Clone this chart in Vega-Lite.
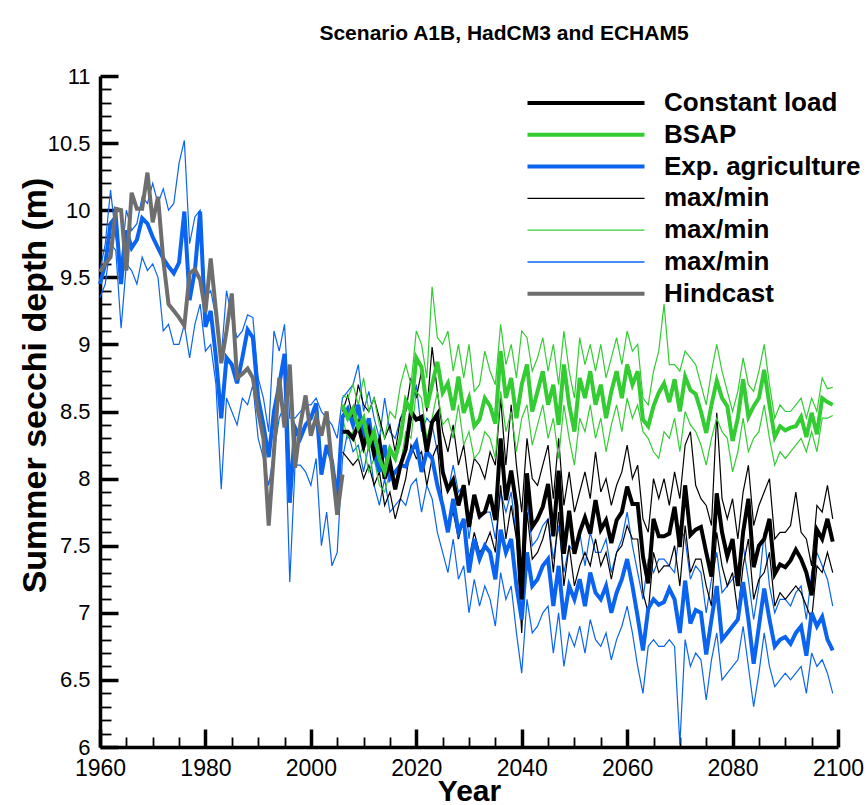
{
"$schema":"https://vega.github.io/schema/vega-lite/v6.json",
"width":738,"height":671,"autosize":"none",
"padding":{"left":100,"top":76,"right":30,"bottom":58},
"background":"#ffffff",
"config":{"view":{"stroke":null},"font":"Liberation Sans"},
"title":{"text":"Scenario A1B, HadCM3 and ECHAM5","font":"Liberation Sans","fontSize":21,"fontWeight":"bold","color":"#000000","anchor":"middle","frame":"group","dx":35,"baseline":"alphabetic","offset":4},
"data":{"values":[
{"year":1960,"h":9.54,"ea":9.45,"eamax":9.55,"eamin":9.35},
{"year":1961,"h":9.6,"ea":9.6,"eamax":9.75,"eamin":9.45},
{"year":1962,"h":9.65,"ea":9.9,"eamax":10.15,"eamin":9.75},
{"year":1963,"h":10.01,"ea":9.95,"eamax":9.8,"eamin":9.7},
{"year":1964,"h":10.0,"ea":9.45,"eamax":9.6,"eamin":9.12},
{"year":1965,"h":9.55,"ea":9.85,"eamax":10.0,"eamin":9.6},
{"year":1966,"h":10.13,"ea":9.72,"eamax":9.85,"eamin":9.55},
{"year":1967,"h":10.01,"ea":9.78,"eamax":9.9,"eamin":9.45},
{"year":1968,"h":10.01,"ea":9.94,"eamax":10.1,"eamin":9.65},
{"year":1969,"h":10.28,"ea":9.9,"eamax":10.05,"eamin":9.55},
{"year":1970,"h":9.91,"ea":9.8,"eamax":10.2,"eamin":9.6},
{"year":1971,"h":10.1,"ea":9.72,"eamax":10.05,"eamin":9.5},
{"year":1972,"h":9.63,"ea":9.64,"eamax":10.16,"eamin":9.1},
{"year":1973,"h":9.3,"ea":9.58,"eamax":10.0,"eamin":9.15},
{"year":1974,"h":9.25,"ea":9.53,"eamax":10.05,"eamin":9.0},
{"year":1975,"h":9.2,"ea":9.61,"eamax":10.35,"eamin":9.0},
{"year":1976,"h":9.14,"ea":9.99,"eamax":10.52,"eamin":9.15},
{"year":1977,"h":9.53,"ea":9.33,"eamax":9.75,"eamin":8.9},
{"year":1978,"h":9.56,"ea":9.55,"eamax":9.95,"eamin":9.15},
{"year":1979,"h":9.48,"ea":9.99,"eamax":10.0,"eamin":9.3},
{"year":1980,"h":9.24,"ea":9.13,"eamax":9.35,"eamin":8.95},
{"year":1981,"h":9.64,"ea":9.25,"eamax":9.4,"eamin":9.0},
{"year":1982,"h":9.25,"ea":8.9,"eamax":9.2,"eamin":8.7},
{"year":1983,"h":8.86,"ea":8.45,"eamax":8.9,"eamin":7.92},
{"year":1984,"h":9.1,"ea":8.9,"eamax":9.4,"eamin":8.6},
{"year":1985,"h":9.38,"ea":8.85,"eamax":9.2,"eamin":8.5},
{"year":1986,"h":8.75,"ea":8.71,"eamax":9.05,"eamin":8.4},
{"year":1987,"h":8.78,"ea":8.9,"eamax":9.1,"eamin":8.6},
{"year":1988,"h":8.82,"ea":9.11,"eamax":9.22,"eamin":8.55},
{"year":1989,"h":8.75,"ea":9.05,"eamax":9.2,"eamin":8.7},
{"year":1990,"h":8.5,"ea":8.6,"eamax":8.75,"eamin":8.3},
{"year":1991,"h":8.3,"ea":8.4,"eamax":8.6,"eamin":8.15},
{"year":1992,"h":7.65,"ea":8.16,"eamax":8.35,"eamin":7.95},
{"year":1993,"h":8.2,"ea":8.5,"eamax":9.1,"eamin":8.2},
{"year":1994,"h":8.75,"ea":8.7,"eamax":8.95,"eamin":8.45},
{"year":1995,"h":8.38,"ea":8.93,"eamax":9.15,"eamin":8.55},
{"year":1996,"h":8.85,"ea":7.82,"eamax":8.45,"eamin":7.23},
{"year":1997,"h":8.08,"ea":8.38,"eamax":8.45,"eamin":8.1},
{"year":1998,"h":8.4,"ea":8.3,"eamax":8.5,"eamin":8.1},
{"year":1999,"h":8.62,"ea":8.4,"eamax":8.55,"eamin":8.05},
{"year":2000,"h":8.32,"ea":8.45,"eamax":8.55,"eamin":7.95},
{"year":2001,"h":8.46,"ea":8.56,"eamax":8.6,"eamin":8.15},
{"year":2002,"h":8.32,"ea":8.03,"eamax":8.5,"eamin":7.5},
{"year":2003,"h":8.5,"ea":8.25,"eamax":8.45,"eamin":7.75},
{"year":2004,"h":8.1,"ea":8.13,"eamax":8.4,"eamin":7.35},
{"year":2005,"h":7.73,"ea":7.84,"eamax":8.3,"eamin":7.45},
{"year":2006,"h":8.03,"ea":8.46,"eamax":8.6,"eamin":8.15,"cl":8.35,"clmax":8.5,"clmin":8.2,"bs":8.55,"bsmax":8.62,"bsmin":8.45},
{"year":2007,"ea":8.52,"eamax":8.65,"eamin":8.35,"cl":8.35,"clmax":8.62,"clmin":8.15,"bs":8.45,"bsmax":8.6,"bsmin":8.3},
{"year":2008,"ea":8.4,"eamax":8.7,"eamin":8.2,"cl":8.3,"clmax":8.45,"clmin":8.1,"bs":8.52,"bsmax":8.7,"bsmin":8.35},
{"year":2009,"ea":8.55,"eamax":8.85,"eamin":8.25,"cl":8.4,"clmax":8.7,"clmin":8.15,"bs":8.38,"bsmax":8.55,"bsmin":8.15},
{"year":2010,"ea":8.3,"eamax":8.5,"eamin":8.05,"cl":8.24,"clmax":8.55,"clmin":8.0,"bs":8.45,"bsmax":8.75,"bsmin":8.25},
{"year":2011,"ea":8.45,"eamax":8.65,"eamin":8.25,"cl":8.36,"clmax":8.5,"clmin":8.1,"bs":8.25,"bsmax":8.5,"bsmin":8.05},
{"year":2012,"ea":8.2,"eamax":8.45,"eamin":7.95,"cl":8.18,"clmax":8.6,"clmin":7.95,"bs":8.35,"bsmax":8.6,"bsmin":8.15},
{"year":2013,"ea":8.05,"eamax":8.3,"eamin":7.8,"cl":8.28,"clmax":8.45,"clmin":8.05,"bs":8.15,"bsmax":8.4,"bsmin":7.95},
{"year":2014,"ea":8.25,"eamax":8.6,"eamin":8.0,"cl":8.0,"clmax":8.3,"clmin":7.8,"bs":8.05,"bsmax":8.3,"bsmin":7.9},
{"year":2015,"ea":8.0,"eamax":8.35,"eamin":7.75,"cl":8.12,"clmax":8.4,"clmin":7.9,"bs":8.22,"bsmax":8.5,"bsmin":8.05},
{"year":2016,"ea":8.05,"eamax":8.3,"eamin":7.8,"cl":7.92,"clmax":8.2,"clmin":7.7,"bs":8.15,"bsmax":8.45,"bsmin":7.95},
{"year":2017,"ea":8.1,"eamax":8.45,"eamin":7.85,"cl":8.1,"clmax":8.45,"clmin":7.85,"bs":8.3,"bsmax":8.7,"bsmin":8.1},
{"year":2018,"ea":8.09,"eamax":8.55,"eamin":7.8,"cl":8.22,"clmax":8.5,"clmin":8.0,"bs":8.58,"bsmax":8.85,"bsmin":8.35},
{"year":2019,"ea":8.2,"eamax":8.5,"eamin":7.95,"cl":8.5,"clmax":8.75,"clmin":8.25,"bs":8.5,"bsmax":8.7,"bsmin":8.3},
{"year":2020,"ea":8.27,"eamax":8.7,"eamin":8.0,"cl":8.44,"clmax":8.6,"clmin":8.15,"bs":8.9,"bsmax":9.1,"bsmin":8.65},
{"year":2021,"ea":8.05,"eamax":8.35,"eamin":7.75,"cl":8.46,"clmax":8.8,"clmin":8.2,"bs":8.83,"bsmax":9.0,"bsmin":8.6},
{"year":2022,"ea":8.2,"eamax":8.45,"eamin":7.95,"cl":8.2,"clmax":8.5,"clmin":7.95,"bs":8.53,"bsmax":8.75,"bsmin":8.3},
{"year":2023,"ea":8.15,"eamax":8.4,"eamin":7.85,"cl":8.42,"clmax":8.98,"clmin":8.15,"bs":8.7,"bsmax":9.43,"bsmin":8.45},
{"year":2024,"ea":7.95,"eamax":8.2,"eamin":7.6,"cl":8.48,"clmax":8.65,"clmin":8.25,"bs":8.87,"bsmax":9.05,"bsmin":8.65},
{"year":2025,"ea":7.8,"eamax":8.1,"eamin":7.45,"cl":8.05,"clmax":8.35,"clmin":7.8,"bs":8.64,"bsmax":9.0,"bsmin":8.4},
{"year":2026,"ea":7.6,"eamax":7.9,"eamin":7.3,"cl":7.92,"clmax":8.2,"clmin":7.65,"bs":8.71,"bsmax":9.1,"bsmin":8.45},
{"year":2027,"ea":7.85,"eamax":8.1,"eamin":7.55,"cl":7.99,"clmax":8.4,"clmin":7.75,"bs":8.51,"bsmax":8.8,"bsmin":8.3},
{"year":2028,"ea":7.6,"eamax":7.9,"eamin":7.25,"cl":7.8,"clmax":8.1,"clmin":7.55,"bs":8.76,"bsmax":9.0,"bsmin":8.55},
{"year":2029,"ea":7.7,"eamax":7.95,"eamin":7.35,"cl":7.95,"clmax":8.25,"clmin":7.7,"bs":8.49,"bsmax":8.75,"bsmin":8.25},
{"year":2030,"ea":7.3,"eamax":7.55,"eamin":7.0,"cl":7.64,"clmax":7.95,"clmin":7.4,"bs":8.6,"bsmax":9.0,"bsmin":8.35},
{"year":2031,"ea":7.55,"eamax":7.85,"eamin":7.25,"cl":7.88,"clmax":8.15,"clmin":7.6,"bs":8.39,"bsmax":8.65,"bsmin":8.15},
{"year":2032,"ea":7.4,"eamax":7.7,"eamin":7.05,"cl":7.72,"clmax":8.1,"clmin":7.45,"bs":8.44,"bsmax":8.7,"bsmin":8.2},
{"year":2033,"ea":7.5,"eamax":7.75,"eamin":7.2,"cl":7.75,"clmax":8.0,"clmin":7.5,"bs":8.6,"bsmax":8.95,"bsmin":8.35},
{"year":2034,"ea":7.45,"eamax":7.75,"eamin":7.1,"cl":7.88,"clmax":8.2,"clmin":7.6,"bs":8.54,"bsmax":8.8,"bsmin":8.3},
{"year":2035,"ea":7.25,"eamax":7.55,"eamin":6.9,"cl":7.69,"clmax":8.1,"clmin":7.45,"bs":8.41,"bsmax":8.7,"bsmin":8.15},
{"year":2036,"ea":7.62,"eamax":7.9,"eamin":7.3,"cl":8.3,"clmax":8.6,"clmin":7.95,"bs":8.95,"bsmax":9.15,"bsmin":8.65},
{"year":2037,"ea":7.45,"eamax":7.75,"eamin":7.1,"cl":7.84,"clmax":8.1,"clmin":7.55,"bs":8.6,"bsmax":8.85,"bsmin":8.35},
{"year":2038,"ea":7.55,"eamax":7.9,"eamin":7.2,"cl":8.06,"clmax":8.55,"clmin":7.8,"bs":8.75,"bsmax":9.0,"bsmin":8.5},
{"year":2039,"ea":7.2,"eamax":7.55,"eamin":6.85,"cl":7.8,"clmax":8.1,"clmin":7.55,"bs":8.45,"bsmax":8.75,"bsmin":8.2},
{"year":2040,"ea":6.95,"eamax":7.3,"eamin":6.55,"cl":7.1,"clmax":7.75,"clmin":6.85,"bs":8.7,"bsmax":9.1,"bsmin":8.45},
{"year":2041,"ea":7.45,"eamax":7.85,"eamin":7.1,"cl":8.04,"clmax":8.3,"clmin":7.75,"bs":8.85,"bsmax":9.05,"bsmin":8.55},
{"year":2042,"ea":7.2,"eamax":7.5,"eamin":6.85,"cl":7.64,"clmax":8.0,"clmin":7.4,"bs":8.5,"bsmax":8.8,"bsmin":8.25},
{"year":2043,"ea":7.25,"eamax":7.55,"eamin":6.9,"cl":7.7,"clmax":7.95,"clmin":7.45,"bs":8.65,"bsmax":8.9,"bsmin":8.4},
{"year":2044,"ea":7.35,"eamax":7.65,"eamin":7.0,"cl":7.79,"clmax":8.1,"clmin":7.55,"bs":8.8,"bsmax":9.05,"bsmin":8.55},
{"year":2045,"ea":7.4,"eamax":7.7,"eamin":7.05,"cl":7.96,"clmax":8.25,"clmin":7.7,"bs":8.55,"bsmax":8.8,"bsmin":8.3},
{"year":2046,"ea":7.05,"eamax":7.4,"eamin":6.7,"cl":7.57,"clmax":7.85,"clmin":7.3,"bs":8.7,"bsmax":9.0,"bsmin":8.45},
{"year":2047,"ea":7.35,"eamax":7.65,"eamin":7.0,"cl":8.06,"clmax":8.3,"clmin":7.75,"bs":8.4,"bsmax":8.7,"bsmin":8.15},
{"year":2048,"ea":6.95,"eamax":7.3,"eamin":6.6,"cl":7.44,"clmax":7.8,"clmin":7.2,"bs":8.85,"bsmax":9.1,"bsmin":8.55},
{"year":2049,"ea":7.2,"eamax":7.5,"eamin":6.85,"cl":7.76,"clmax":8.05,"clmin":7.5,"bs":8.55,"bsmax":8.8,"bsmin":8.3},
{"year":2050,"ea":7.1,"eamax":7.45,"eamin":6.75,"cl":7.44,"clmax":7.75,"clmin":7.2,"bs":8.35,"bsmax":8.6,"bsmin":8.1},
{"year":2051,"ea":7.25,"eamax":7.6,"eamin":6.9,"cl":7.6,"clmax":7.9,"clmin":7.35,"bs":8.75,"bsmax":9.05,"bsmin":8.45},
{"year":2052,"ea":7.05,"eamax":7.35,"eamin":6.7,"cl":7.71,"clmax":8.05,"clmin":7.45,"bs":8.6,"bsmax":8.85,"bsmin":8.35},
{"year":2053,"ea":7.3,"eamax":7.6,"eamin":6.95,"cl":7.59,"clmax":7.85,"clmin":7.35,"bs":8.8,"bsmax":9.0,"bsmin":8.55},
{"year":2054,"ea":7.15,"eamax":7.45,"eamin":6.8,"cl":7.84,"clmax":8.2,"clmin":7.55,"bs":8.55,"bsmax":8.8,"bsmin":8.3},
{"year":2055,"ea":7.1,"eamax":7.45,"eamin":6.75,"cl":7.62,"clmax":7.9,"clmin":7.35,"bs":8.7,"bsmax":9.0,"bsmin":8.45},
{"year":2056,"ea":7.2,"eamax":7.55,"eamin":6.85,"cl":7.69,"clmax":8.0,"clmin":7.45,"bs":8.45,"bsmax":8.75,"bsmin":8.2},
{"year":2057,"ea":7.0,"eamax":7.3,"eamin":6.65,"cl":7.52,"clmax":7.8,"clmin":7.25,"bs":8.65,"bsmax":8.9,"bsmin":8.4},
{"year":2058,"ea":7.15,"eamax":7.45,"eamin":6.8,"cl":7.69,"clmax":7.95,"clmin":7.45,"bs":8.8,"bsmax":9.05,"bsmin":8.55},
{"year":2059,"ea":7.25,"eamax":7.55,"eamin":6.9,"cl":7.75,"clmax":8.05,"clmin":7.5,"bs":8.6,"bsmax":8.85,"bsmin":8.35},
{"year":2060,"ea":7.4,"eamax":7.75,"eamin":7.05,"cl":7.94,"clmax":8.25,"clmin":7.65,"bs":8.85,"bsmax":9.1,"bsmin":8.6},
{"year":2061,"ea":7.2,"eamax":7.5,"eamin":6.85,"cl":7.81,"clmax":8.0,"clmin":7.55,"bs":8.7,"bsmax":8.95,"bsmin":8.45},
{"year":2062,"ea":6.97,"eamax":7.3,"eamin":6.6,"cl":7.81,"clmax":8.1,"clmin":7.55,"bs":8.8,"bsmax":9.0,"bsmin":8.55},
{"year":2063,"ea":6.72,"eamax":7.1,"eamin":6.4,"cl":7.42,"clmax":7.7,"clmin":7.15,"bs":8.44,"bsmax":8.6,"bsmin":8.35},
{"year":2064,"ea":7.03,"eamax":7.4,"eamin":6.75,"cl":7.22,"clmax":7.6,"clmin":7.0,"bs":8.39,"bsmax":8.55,"bsmin":8.3},
{"year":2065,"ea":7.1,"eamax":7.3,"eamin":6.8,"cl":7.7,"clmax":8.0,"clmin":7.45,"bs":8.54,"bsmax":8.8,"bsmin":8.2},
{"year":2066,"ea":7.06,"eamax":7.4,"eamin":6.75,"cl":7.57,"clmax":7.85,"clmin":7.3,"bs":8.64,"bsmax":8.95,"bsmin":8.15},
{"year":2067,"ea":7.08,"eamax":7.4,"eamin":6.75,"cl":7.57,"clmax":8.0,"clmin":7.35,"bs":8.71,"bsmax":9.3,"bsmin":8.35},
{"year":2068,"ea":7.18,"eamax":7.35,"eamin":6.8,"cl":7.59,"clmax":7.8,"clmin":7.35,"bs":8.57,"bsmax":8.85,"bsmin":8.3},
{"year":2069,"ea":7.1,"eamax":7.3,"eamin":6.75,"cl":7.79,"clmax":8.05,"clmin":7.5,"bs":8.74,"bsmax":8.85,"bsmin":8.45},
{"year":2070,"ea":6.85,"eamax":7.64,"eamin":6.02,"cl":7.49,"clmax":7.85,"clmin":7.2,"bs":8.5,"bsmax":8.8,"bsmin":8.2},
{"year":2071,"ea":7.24,"eamax":7.55,"eamin":6.8,"cl":7.95,"clmax":8.25,"clmin":7.65,"bs":8.76,"bsmax":8.95,"bsmin":8.5},
{"year":2072,"ea":6.92,"eamax":7.25,"eamin":6.6,"cl":7.58,"clmax":8.35,"clmin":7.3,"bs":8.66,"bsmax":8.9,"bsmin":8.4},
{"year":2073,"ea":7.02,"eamax":7.35,"eamin":6.7,"cl":7.62,"clmax":7.95,"clmin":7.4,"bs":8.63,"bsmax":8.85,"bsmin":8.35},
{"year":2074,"ea":7.0,"eamax":7.3,"eamin":6.65,"cl":7.64,"clmax":7.85,"clmin":7.4,"bs":8.5,"bsmax":8.7,"bsmin":8.25},
{"year":2075,"ea":6.69,"eamax":7.0,"eamin":6.35,"cl":7.45,"clmax":7.8,"clmin":7.2,"bs":8.34,"bsmax":8.55,"bsmin":8.1},
{"year":2076,"ea":6.95,"eamax":7.25,"eamin":6.65,"cl":7.27,"clmax":7.65,"clmin":7.05,"bs":8.55,"bsmax":8.8,"bsmin":8.3},
{"year":2077,"ea":7.2,"eamax":7.45,"eamin":6.85,"cl":7.89,"clmax":8.49,"clmin":7.6,"bs":8.73,"bsmax":9.0,"bsmin":8.45},
{"year":2078,"ea":6.8,"eamax":7.15,"eamin":6.5,"cl":7.6,"clmax":7.85,"clmin":7.35,"bs":8.6,"bsmax":8.8,"bsmin":8.35},
{"year":2079,"ea":6.85,"eamax":7.2,"eamin":6.55,"cl":7.42,"clmax":7.7,"clmin":7.2,"bs":8.54,"bsmax":8.65,"bsmin":8.3},
{"year":2080,"ea":6.9,"eamax":7.25,"eamin":6.6,"cl":7.55,"clmax":7.85,"clmin":7.3,"bs":8.28,"bsmax":8.5,"bsmin":8.05},
{"year":2081,"ea":6.95,"eamax":7.3,"eamin":6.65,"cl":7.2,"clmax":7.55,"clmin":7.0,"bs":8.45,"bsmax":8.65,"bsmin":8.2},
{"year":2082,"ea":7.23,"eamax":7.5,"eamin":6.9,"cl":7.6,"clmax":7.9,"clmin":7.35,"bs":8.74,"bsmax":8.9,"bsmin":8.45},
{"year":2083,"ea":6.95,"eamax":7.25,"eamin":6.6,"cl":7.85,"clmax":8.1,"clmin":7.55,"bs":8.46,"bsmax":8.7,"bsmin":8.2},
{"year":2084,"ea":6.62,"eamax":6.95,"eamin":6.3,"cl":7.34,"clmax":7.65,"clmin":7.1,"bs":8.54,"bsmax":8.65,"bsmin":8.3},
{"year":2085,"ea":6.9,"eamax":7.2,"eamin":6.55,"cl":7.5,"clmax":7.8,"clmin":7.25,"bs":8.6,"bsmax":8.8,"bsmin":8.35},
{"year":2086,"ea":7.18,"eamax":7.6,"eamin":6.85,"cl":7.55,"clmax":7.9,"clmin":7.3,"bs":8.81,"bsmax":9.0,"bsmin":8.55},
{"year":2087,"ea":6.95,"eamax":7.2,"eamin":6.6,"cl":7.7,"clmax":8.0,"clmin":7.45,"bs":8.55,"bsmax":8.7,"bsmin":8.3},
{"year":2088,"ea":6.75,"eamax":7.0,"eamin":6.45,"cl":7.29,"clmax":7.55,"clmin":7.05,"bs":8.31,"bsmax":8.45,"bsmin":8.1},
{"year":2089,"ea":6.8,"eamax":7.1,"eamin":6.5,"cl":7.36,"clmax":7.6,"clmin":7.15,"bs":8.39,"bsmax":8.55,"bsmin":8.2},
{"year":2090,"ea":6.82,"eamax":7.1,"eamin":6.55,"cl":7.34,"clmax":7.6,"clmin":7.1,"bs":8.36,"bsmax":8.5,"bsmin":8.15},
{"year":2091,"ea":6.77,"eamax":7.05,"eamin":6.5,"cl":7.39,"clmax":7.65,"clmin":7.15,"bs":8.38,"bsmax":8.5,"bsmin":8.2},
{"year":2092,"ea":6.85,"eamax":7.15,"eamin":6.55,"cl":7.47,"clmax":7.9,"clmin":7.2,"bs":8.39,"bsmax":8.55,"bsmin":8.25},
{"year":2093,"ea":6.9,"eamax":7.2,"eamin":6.6,"cl":7.4,"clmax":7.6,"clmin":7.15,"bs":8.46,"bsmax":8.6,"bsmin":8.3},
{"year":2094,"ea":6.68,"eamax":6.95,"eamin":6.4,"cl":7.3,"clmax":7.55,"clmin":7.05,"bs":8.31,"bsmax":8.45,"bsmin":8.2},
{"year":2095,"ea":7.0,"eamax":7.3,"eamin":6.7,"cl":7.13,"clmax":7.35,"clmin":6.95,"bs":8.49,"bsmax":8.6,"bsmin":8.35},
{"year":2096,"ea":6.9,"eamax":7.45,"eamin":6.6,"cl":7.62,"clmax":7.8,"clmin":7.35,"bs":8.33,"bsmax":8.5,"bsmin":8.2},
{"year":2097,"ea":6.97,"eamax":7.35,"eamin":6.65,"cl":7.55,"clmax":7.75,"clmin":7.3,"bs":8.6,"bsmax":8.75,"bsmin":8.45},
{"year":2098,"ea":6.8,"eamax":7.25,"eamin":6.55,"cl":7.7,"clmax":7.95,"clmin":7.45,"bs":8.57,"bsmax":8.67,"bsmin":8.45},
{"year":2099,"ea":6.72,"eamax":7.05,"eamin":6.4,"cl":7.53,"clmax":7.7,"clmin":7.3,"bs":8.55,"bsmax":8.68,"bsmin":8.47}
]},
"encoding":{
"x":{"field":"year","type":"quantitative","scale":{"domain":[1960,2100],"nice":false,"zero":false},
 "axis":{"title":"Year","titleFont":"Liberation Sans","titleFontSize":30,"titleFontWeight":"bold","titleColor":"#000000","titleY":53,"titleBaseline":"alphabetic",
 "values":[1960,1965,1970,1975,1980,1985,1990,1995,2000,2005,2010,2015,2020,2025,2030,2035,2040,2045,2050,2055,2060,2065,2070,2075,2080,2085,2090,2095,2100],
 "format":"d","labelExpr":"datum.value % 20 === 0 ? datum.label : ''","labelFont":"Liberation Sans","labelFontSize":23,"labelColor":"#000000","labelPadding":28,"labelBaseline":"top","labelOverlap":false,"labelFlush":false,"labelBound":false,
 "tickColor":"#000000","tickSize":{"condition":{"test":"datum.value % 20 === 0","value":-18},"value":-10},"tickWidth":{"condition":{"test":"datum.value % 20 === 0","value":3.5},"value":1.8},
 "domainColor":"#000000","domainWidth":3.5,"grid":false}},
"y":{"field":"value","type":"quantitative","scale":{"domain":[6,11],"nice":false,"zero":false},
 "axis":{"title":"Summer secchi depth (m)","titleFont":"Liberation Sans","titleFontSize":34,"titleFontWeight":"bold","titleColor":"#000000","titleX":-55,"titleY":309,"titleBaseline":"alphabetic",
 "values":[6,6.1,6.2,6.3,6.4,6.5,6.6,6.7,6.8,6.9,7,7.1,7.2,7.3,7.4,7.5,7.6,7.7,7.8,7.9,8,8.1,8.2,8.3,8.4,8.5,8.6,8.7,8.8,8.9,9,9.1,9.2,9.3,9.4,9.5,9.6,9.7,9.8,9.9,10,10.1,10.2,10.3,10.4,10.5,10.6,10.7,10.8,10.9,11],
 "format":"~g","labelExpr":"abs(datum.value*2 - round(datum.value*2)) < 0.001 ? datum.label : ''","labelFont":"Liberation Sans","labelFontSize":22,"labelColor":"#000000","labelPadding":28,"labelOverlap":false,"labelFlush":false,"labelBound":false,
 "tickColor":"#000000","tickSize":{"condition":{"test":"abs(datum.value*2 - round(datum.value*2)) < 0.001","value":-18},"value":-11},"tickWidth":{"condition":{"test":"abs(datum.value*2 - round(datum.value*2)) < 0.001","value":3.5},"value":1.8},
 "domainColor":"#000000","domainWidth":3.5,"grid":false}},
"color":{"field":"key","type":"nominal",
 "scale":{"domain":["cl","bs","ea","clmax","bsmax","eamax","h","clmin","bsmin","eamin"],"range":["#000000","#33cc33","#0a64f0","#000000","#33cc33","#0a64f0","#6e6e6e","#000000","#33cc33","#0a64f0"]},
 "legend":{"orient":"none","legendX":428,"legendY":14,"title":null,"padding":0,"values":["cl","bs","ea","clmax","bsmax","eamax","h"],
  "labelExpr":"datum.value === 'cl' ? 'Constant load' : datum.value === 'bs' ? 'BSAP' : datum.value === 'ea' ? 'Exp. agriculture' : datum.value === 'h' ? 'Hindcast' : 'max/min'",
  "symbolType":"stroke","symbolSize":13689,"symbolOffset":45,"labelFont":"Liberation Sans","labelFontSize":26,"labelFontWeight":"bold","labelColor":"#000000","labelOffset":65,"labelLimit":400,"rowPadding":5.8,
  "encode":{"symbols":{"update":{"strokeWidth":{"signal":"indexof(['cl','bs','ea','h'], datum.value) >= 0 ? 4 : 1.3"}}}}}}
},
"layer":[
{"transform":[{"fold":["eamax","eamin","clmax","clmin","bsmax","bsmin"],"as":["key","value"]}],
 "mark":{"type":"line","strokeWidth":1.2,"strokeJoin":"miter"}},
{"transform":[{"fold":["ea","cl","bs","h"],"as":["key","value"]}],
 "mark":{"type":"line","strokeWidth":4,"strokeJoin":"miter"}}
]
}
